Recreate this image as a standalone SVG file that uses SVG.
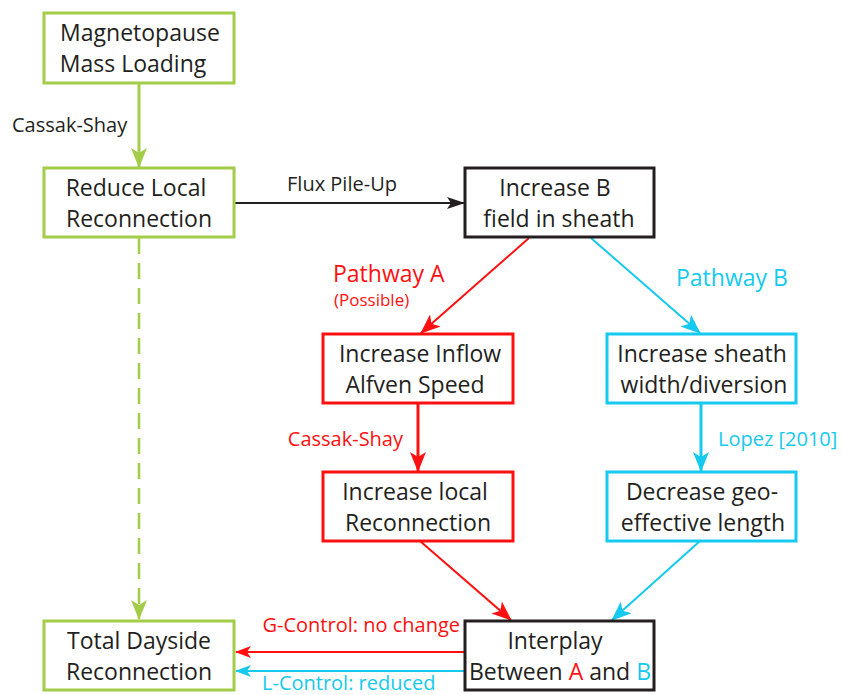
<svg xmlns="http://www.w3.org/2000/svg" width="842" height="695" viewBox="0 0 842 695">
<defs>
<style>
text{font-family:"Open Sans","Noto Sans",sans-serif;}
.t{font-size:23px;fill:#231f20;text-anchor:middle;}
.l{font-size:20px;}
.box{fill:#fff;stroke-width:3;}
.g{stroke:#a3cc48;}
.r{stroke:#ff1010;}
.b{stroke:#16c9ef;}
.k{stroke:#231f20;}
.ln{fill:none;}
</style>
<marker id="agL" markerWidth="20" markerHeight="16" viewBox="0 0 20 16" refX="19" refY="8" orient="auto" markerUnits="userSpaceOnUse"><path d="M0,0 L20,8 L0,16 L5,8 Z" fill="#a3cc48"/></marker>
<marker id="ak" markerWidth="18" markerHeight="12" viewBox="0 0 18 12" refX="17" refY="6" orient="auto" markerUnits="userSpaceOnUse"><path d="M0,0 L18,6 L0,12 L4,6 Z" fill="#231f20"/></marker>
<marker id="ar" markerWidth="20" markerHeight="16" viewBox="0 0 20 16" refX="19" refY="8" orient="auto" markerUnits="userSpaceOnUse"><path d="M0,0 L20,8 L0,16 L5,8 Z" fill="#ff1010"/></marker>
<marker id="ab" markerWidth="20" markerHeight="16" viewBox="0 0 20 16" refX="19" refY="8" orient="auto" markerUnits="userSpaceOnUse"><path d="M0,0 L20,8 L0,16 L5,8 Z" fill="#16c9ef"/></marker>
<marker id="ars" markerWidth="16" markerHeight="12" viewBox="0 0 16 12" refX="15" refY="6" orient="auto" markerUnits="userSpaceOnUse"><path d="M0,0 L16,6 L0,12 L4,6 Z" fill="#ff1010"/></marker>
<marker id="abs" markerWidth="16" markerHeight="12" viewBox="0 0 16 12" refX="15" refY="6" orient="auto" markerUnits="userSpaceOnUse"><path d="M0,0 L16,6 L0,12 L4,6 Z" fill="#16c9ef"/></marker>
</defs>
<rect width="842" height="695" fill="#fff"/>

<g id="connectors">
<line class="ln" x1="139" y1="83" x2="139" y2="167" stroke="#a3cc48" stroke-width="3" marker-end="url(#agL)"/>
<line class="ln" x1="139" y1="238" x2="139" y2="619" stroke="#a3cc48" stroke-width="2.5" stroke-dasharray="16,9" marker-end="url(#agL)"/>
<line class="ln" x1="234" y1="203" x2="464" y2="203" stroke="#231f20" stroke-width="2" marker-end="url(#ak)"/>
<line class="ln" x1="529" y1="238" x2="421" y2="333" stroke="#ff1010" stroke-width="2" marker-end="url(#ar)"/>
<line class="ln" x1="591" y1="238" x2="700" y2="333" stroke="#16c9ef" stroke-width="2" marker-end="url(#ab)"/>
<line class="ln" x1="418" y1="403" x2="418" y2="471" stroke="#ff1010" stroke-width="3" marker-end="url(#ar)"/>
<line class="ln" x1="701" y1="403" x2="701" y2="471" stroke="#16c9ef" stroke-width="3" marker-end="url(#ab)"/>
<line class="ln" x1="420" y1="541" x2="511" y2="620" stroke="#ff1010" stroke-width="2" marker-end="url(#ar)"/>
<line class="ln" x1="700" y1="541" x2="612" y2="620" stroke="#16c9ef" stroke-width="2" marker-end="url(#ab)"/>
<line class="ln" x1="465" y1="652" x2="236" y2="652" stroke="#ff1010" stroke-width="2" marker-end="url(#ars)"/>
<line class="ln" x1="465" y1="671" x2="236" y2="671" stroke="#16c9ef" stroke-width="2" marker-end="url(#abs)"/>
<text class="l" x="12" y="132" fill="#231f20">Cassak-Shay</text>
<text class="l" x="342" y="191" fill="#231f20" text-anchor="middle">Flux Pile-Up</text>
<text x="333" y="282" fill="#ff1010" font-size="23">Pathway A</text>
<text x="334" y="306" fill="#ff1010" font-size="17">(Possible)</text>
<text x="676" y="286" fill="#16c9ef" font-size="23">Pathway B</text>
<text class="l" x="403" y="446" fill="#ff1010" text-anchor="end">Cassak-Shay</text>
<text class="l" x="718" y="446" fill="#16c9ef">Lopez [2010]</text>
<text class="l" x="460" y="632" fill="#ff1010" text-anchor="end">G-Control: no change</text>
<text class="l" x="262" y="690" fill="#16c9ef">L-Control: reduced</text>
</g>

<g id="n1"><rect class="box g" x="44" y="13" width="190" height="70"/>
<text class="t" x="140" y="41">Magnetopause</text><text class="t" x="133" y="72">Mass Loading</text></g>
<g id="n2"><rect class="box g" x="44" y="168" width="190" height="69"/>
<text class="t" x="136" y="196">Reduce Local</text><text class="t" x="139" y="227">Reconnection</text></g>
<g id="n3"><rect class="box k" x="465" y="168" width="189" height="69"/>
<text class="t" x="555" y="196">Increase B</text><text class="t" x="559" y="227">field in sheath</text></g>
<g id="n4"><rect class="box r" x="323" y="334" width="190" height="69"/>
<text class="t" x="420" y="362">Increase Inflow</text><text class="t" x="415" y="393">Alfven Speed</text></g>
<g id="n5"><rect class="box b" x="607" y="334" width="189" height="69"/>
<text class="t" x="702" y="362">Increase sheath</text><text class="t" x="704" y="393">width/diversion</text></g>
<g id="n6"><rect class="box r" x="323" y="472" width="190" height="69"/>
<text class="t" x="415" y="500">Increase local</text><text class="t" x="418" y="531">Reconnection</text></g>
<g id="n7"><rect class="box b" x="607" y="472" width="189" height="69"/>
<text class="t" x="702" y="500">Decrease geo-</text><text class="t" x="703" y="531">effective length</text></g>
<g id="n8"><rect class="box k" x="465" y="621" width="189" height="69"/>
<text class="t" x="555" y="649">Interplay</text><text class="t" x="560" y="680">Between <tspan fill="#ff1010">A</tspan> and <tspan fill="#16c9ef">B</tspan></text></g>
<g id="n9"><rect class="box g" x="44" y="621" width="190" height="69"/>
<text class="t" x="139" y="649">Total Dayside</text><text class="t" x="139" y="680">Reconnection</text></g>
</svg>
